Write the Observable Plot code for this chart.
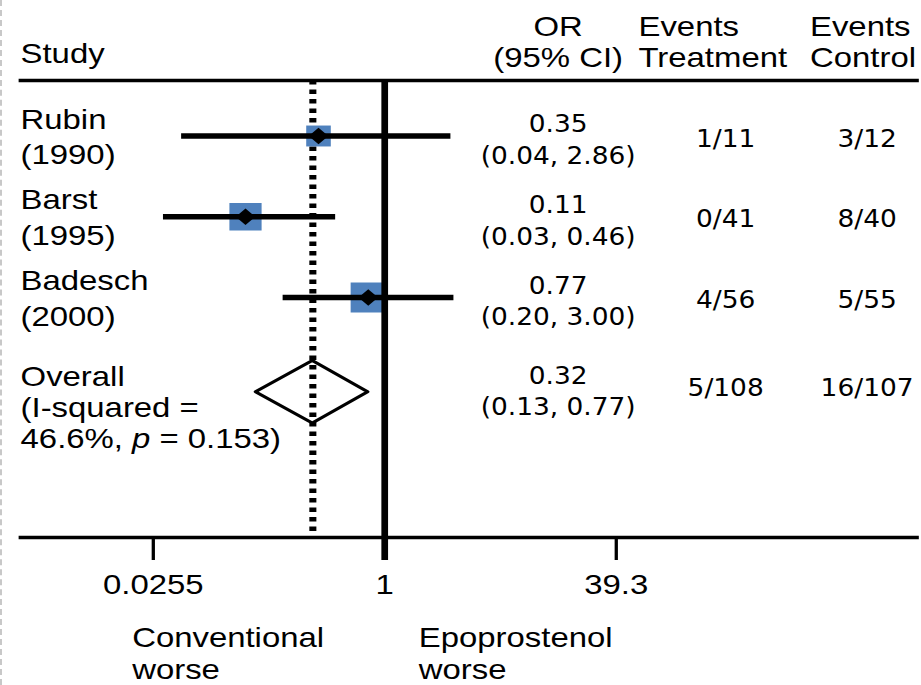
<!DOCTYPE html>
<html>
<head>
<meta charset="utf-8">
<script src="https://cdn.jsdelivr.net/npm/d3@7"></script>
<script src="https://cdn.jsdelivr.net/npm/@observablehq/plot@0.6"></script>
<style>
  html, body { margin: 0; padding: 0; background: white; overflow: hidden; }
  #wrap { position: relative; width: 921px; height: 685px; }
  #edge { position: absolute; left: 0; top: 0; bottom: 0; border-left: 2px dashed #c8c8c8; }
  #chart svg { transform-origin: 0 0; display: block; }
</style>
</head>
<body>
<div id="wrap"><div id="chart"></div><div id="edge"></div></div>
<script>
// ---- data ----
const studies = ["Rubin", "Barst", "Badesch"];
const years = [1990, 1995, 2000];
const oddsRatios = [0.35, 0.11, 0.77];
const ciLow = [0.04, 0.03, 0.20];
const ciHigh = [2.86, 0.46, 3.00];
const weights = [21, 36, 43];
const eventsTreatment = ["1/11", "0/41", "4/56"];
const eventsControl = ["3/12", "8/40", "5/55"];

const overallLabel = "Overall";
const overallOR = 0.32;
const overallLow = 0.13;
const overallHigh = 0.77;
const overallEventsTreatment = "5/108";
const overallEventsControl = "16/107";
const iSquared = "46.6%";
const pValue = "0.153";

const columnHeaders = ["Study", "OR\n(95% CI)", "Events\nTreatment", "Events\nControl"];
const xTicks = [0.0255, 1, 39.3];
const tickLabels = ["0.0255", "1", "39.3"];
const directionLabels = ["Conventional\nworse", "Epoprostenol\nworse"];

// ---- layout / style ----
const W = 784, H = 685, S = 921 / W;   // the original figure is stretched horizontally
const sans = "'Liberation Sans', Arial, sans-serif";
const numFont = "'DejaVu Sans Condensed', 'DejaVu Sans', sans-serif";
const blue = "#4F81BD";
const colOR = 457.6, colT = 600.2, colC = 720.6;

const rows = studies.map((s, i) => ({
  study: s, year: years[i], or: oddsRatios[i], low: ciLow[i], high: ciHigh[i],
  weight: weights[i], et: eventsTreatment[i], ec: eventsControl[i], row: i + 1
}));
const overallRow = studies.length + 1;
const dHalf = 31 / 80;
const diamond = [
  {y: overallRow - dHalf, x1: overallOR, x2: overallOR},
  {y: overallRow, x1: overallLow, x2: overallHigh},
  {y: overallRow + dHalf, x1: overallOR, x2: overallOR}
];
const f2 = (v) => v.toFixed(2);
const orText = (o, l, h) => `${f2(o)}\n(${f2(l)}, ${f2(h)})`;

const plot = Plot.plot({
  width: W, height: H,
  marginTop: 80, marginBottom: 148, marginLeft: 17, marginRight: 4,
  x: {type: "log", domain: [xTicks[0], xTicks[2]], range: [130.0, 524.1], axis: null},
  y: {domain: [1, 3], range: [135.5, 297], axis: null},
  r: {type: "sqrt", domain: [0, d3.max(weights)], range: [0, 16.9]},
  style: {fontFamily: sans, fontSize: "28px", color: "black", background: "white", overflow: "visible"},
  marks: [
    Plot.frame({anchor: "top", strokeWidth: 3.3}),
    Plot.frame({anchor: "bottom", strokeWidth: 3.3}),
    Plot.ruleX([overallOR], {strokeWidth: 6, strokeDasharray: "4.5,5"}),
    Plot.dot(rows, {x: "or", y: "row", r: "weight", symbol: "square", fill: blue}),
    Plot.ruleY(rows, {x1: "low", x2: "high", y: "row", strokeWidth: 5.5}),
    Plot.dot(rows, {x: "or", y: "row", r: 7.5, symbol: "diamond2", fill: "black"}),
    Plot.ruleX([1], {strokeWidth: 5.7, insetBottom: -23}),
    Plot.areaX(diamond, {y: "y", x1: "x1", x2: "x2", fill: "none", stroke: "black", strokeWidth: 3, dy: 14}),
    Plot.axisX(xTicks, {anchor: "bottom", tickSize: 23, strokeWidth: 2.8, fill: "none", label: null}),
    Plot.text(xTicks, {x: (d) => d, text: (d, i) => tickLabels[i], frameAnchor: "bottom", lineAnchor: "bottom", dy: 56.3, fontSize: 28}),

    // headers
    Plot.text([columnHeaders[0]], {frameAnchor: "top-left", textAnchor: "start", lineAnchor: "bottom", dy: -17.5, fontSize: 28}),
    Plot.text([columnHeaders[1]], {frameAnchor: "top-left", textAnchor: "middle", lineAnchor: "bottom", dx: colOR, dy: -13.3, lineHeight: 1.13, fontSize: 28}),
    Plot.text([columnHeaders[2]], {frameAnchor: "top-left", textAnchor: "start", lineAnchor: "bottom", dx: 526, dy: -13.3, lineHeight: 1.13, fontSize: 28}),
    Plot.text([columnHeaders[3]], {frameAnchor: "top-left", textAnchor: "start", lineAnchor: "bottom", dx: 672, dy: -13.3, lineHeight: 1.13, fontSize: 28}),

    // study labels
    Plot.text(rows, {text: (d) => `${d.study}\n(${d.year})`, y: "row", frameAnchor: "left", textAnchor: "start", lineHeight: 1.28, dy: -1, fontSize: 28}),
    Plot.text([overallRow], {y: (d) => d, text: () => `${overallLabel}\n(I-squared =\n${iSquared}, p = ${pValue})`,
      frameAnchor: "left", textAnchor: "start", lineHeight: 1.115, dy: 28.6, fontSize: 28}),

    // number columns
    Plot.text(rows, {text: (d) => orText(d.or, d.low, d.high), y: "row", frameAnchor: "left", textAnchor: "middle", dx: colOR, dy: 2,
      fontFamily: numFont, fontSize: 25, lineHeight: 1.26}),
    Plot.text(rows, {text: "et", y: "row", frameAnchor: "left", textAnchor: "middle", dx: colT, dy: 2.5, fontFamily: numFont, fontSize: 25}),
    Plot.text(rows, {text: "ec", y: "row", frameAnchor: "left", textAnchor: "middle", dx: colC, dy: 2.5, fontFamily: numFont, fontSize: 25}),
    Plot.text([overallRow], {y: (d) => d, text: () => orText(overallOR, overallLow, overallHigh), frameAnchor: "left", textAnchor: "middle",
      dx: colOR, dy: 11, fontFamily: numFont, fontSize: 25, lineHeight: 1.26}),
    Plot.text([overallRow], {y: (d) => d, text: () => overallEventsTreatment, frameAnchor: "left", textAnchor: "middle", dx: colT, dy: 10, fontFamily: numFont, fontSize: 25}),
    Plot.text([overallRow], {y: (d) => d, text: () => overallEventsControl, frameAnchor: "left", textAnchor: "middle", dx: colC, dy: 10, fontFamily: numFont, fontSize: 25}),

    // direction labels
    Plot.text([directionLabels[0]], {frameAnchor: "bottom-left", textAnchor: "start", lineAnchor: "top", dx: 95, dy: 87.3, lineHeight: 1.14, fontSize: 28}),
    Plot.text([directionLabels[1]], {frameAnchor: "bottom-left", textAnchor: "start", lineAnchor: "top", dx: 339, dy: 87.3, lineHeight: 1.14, fontSize: 28})
  ]
});

plot.style.transform = `scaleX(${S})`;
d3.select(plot).selectAll("text").filter(function () {
  return (this.getAttribute("font-family") || "").includes("DejaVu");
}).style("font-stretch", "condensed");

// italic p in the heterogeneity line
d3.select(plot).selectAll("tspan").each(function () {
  const t = this.textContent;
  if (t.includes(", p = ")) {
    const [a, b] = t.split("p = ");
    this.textContent = "";
    this.appendChild(document.createTextNode(a));
    const it = document.createElementNS("http://www.w3.org/2000/svg", "tspan");
    it.setAttribute("font-style", "italic");
    it.textContent = "p";
    this.appendChild(it);
    this.appendChild(document.createTextNode(" = " + b));
  }
});

document.getElementById("chart").appendChild(plot);
</script>
</body>
</html>
